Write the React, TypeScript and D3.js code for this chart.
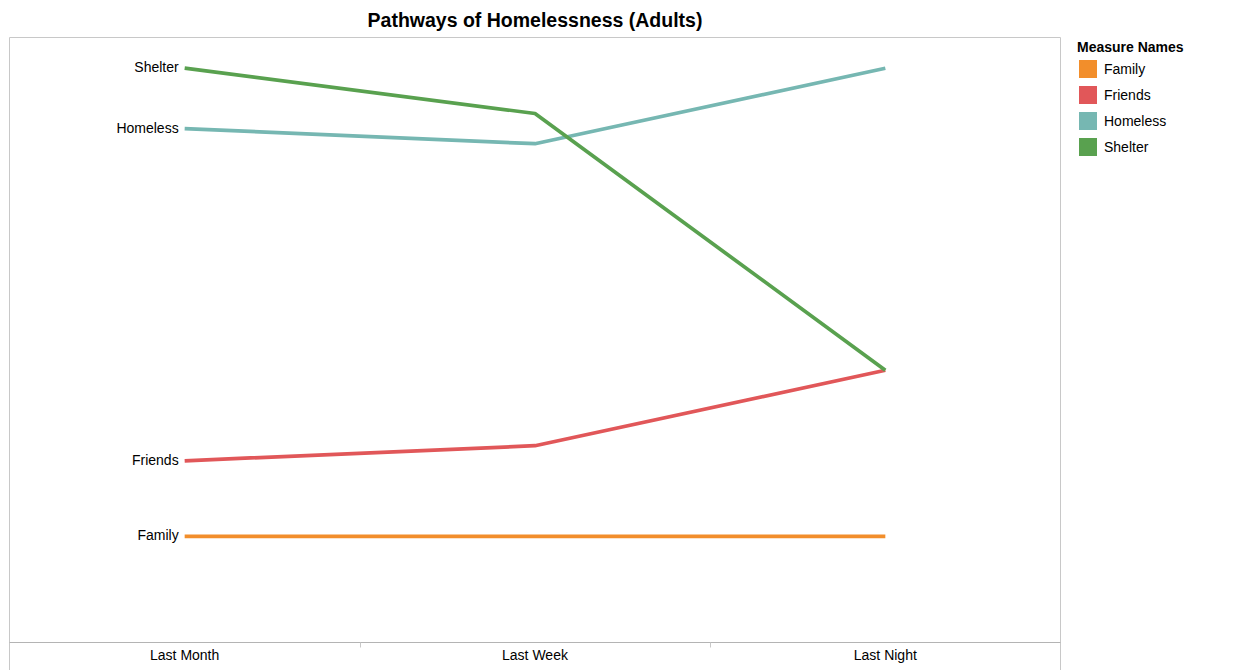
import React from "react";
import * as d3 from "d3";

const periods = ["Last Month", "Last Week", "Last Night"];
const seriesNames = ["Family", "Friends", "Homeless", "Shelter"];
const familyValues = [17.5, 17.5, 17.5];
const friendsValues = [30, 32.5, 45];
const homelessValues = [85, 82.5, 95];
const shelterValues = [95, 87.5, 45];
const seriesColors = ["#f28e2b", "#e15759", "#76b7b2", "#59a14f"];

const W = 1259;
const H = 670;
const frame = { left: 9.5, right: 1060.5, top: 37.5, plotBottom: 642.5, bottom: 670 };

export default function App() {
  const valuesBySeries = [familyValues, friendsValues, homelessValues, shelterValues];
  const x = d3.scaleBand<string>().domain(periods).range([frame.left, frame.right]);
  const y = d3.scaleLinear().domain([0, 100]).range([642, 38]);
  const line = d3
    .line<number>()
    .x((_, i) => (x(periods[i]) as number) + x.bandwidth() / 2)
    .y((v) => y(v));
  const font = "'Liberation Sans', Arial, sans-serif";
  const legend = d3.scaleBand<string>().domain(seriesNames).range([59, 163]);

  return (
    <svg width={W} height={H} style={{ position: "absolute", left: 0, top: 0 }} fontFamily={font}>
      <rect x={0} y={0} width={W} height={H} fill="#fff" />
      <text x={535} y={27} textAnchor="middle" fontSize={19.5} fontWeight="bold" fill="#000">
        Pathways of Homelessness (Adults)
      </text>
      <line x1={frame.left} x2={frame.right} y1={frame.top} y2={frame.top} stroke="#c8c8c8" />
      <line x1={frame.left} x2={frame.left} y1={frame.top} y2={frame.bottom} stroke="#c8c8c8" />
      <line x1={frame.right} x2={frame.right} y1={frame.top} y2={frame.bottom} stroke="#c8c8c8" />
      <line x1={frame.left} x2={frame.right} y1={frame.plotBottom} y2={frame.plotBottom} stroke="#b4b4b4" />
      {periods.slice(1).map((p) => (
        <line
          key={p}
          x1={Math.round(x(p) as number) + 0.5}
          x2={Math.round(x(p) as number) + 0.5}
          y1={frame.plotBottom}
          y2={frame.plotBottom + 5}
          stroke="#c8c8c8"
        />
      ))}
      {periods.map((p) => (
        <text
          key={p}
          x={(x(p) as number) + x.bandwidth() / 2}
          y={660}
          textAnchor="middle"
          fontSize={14}
          fill="#000"
        >
          {p}
        </text>
      ))}
      {seriesNames.map((s, i) => (
        <path
          key={s}
          d={line(valuesBySeries[i]) || ""}
          fill="none"
          stroke={seriesColors[i]}
          strokeWidth={3.7}
          strokeLinejoin="round"
        />
      ))}
      {seriesNames.map((s, i) => (
        <text
          key={s}
          x={(x(periods[0]) as number) + x.bandwidth() / 2 - 6}
          y={y(valuesBySeries[i][0]) + 4}
          textAnchor="end"
          fontSize={14}
          fill="#000"
        >
          {s}
        </text>
      ))}
      <text x={1077} y={52} fontSize={14} fontWeight="bold" fill="#000">
        Measure Names
      </text>
      {seriesNames.map((s, i) => (
        <g key={s}>
          <rect x={1079} y={(legend(s) as number) + 1} width={18} height={18} fill={seriesColors[i]} />
          <text x={1104} y={(legend(s) as number) + 15} fontSize={14} fill="#000">
            {s}
          </text>
        </g>
      ))}
    </svg>
  );
}
